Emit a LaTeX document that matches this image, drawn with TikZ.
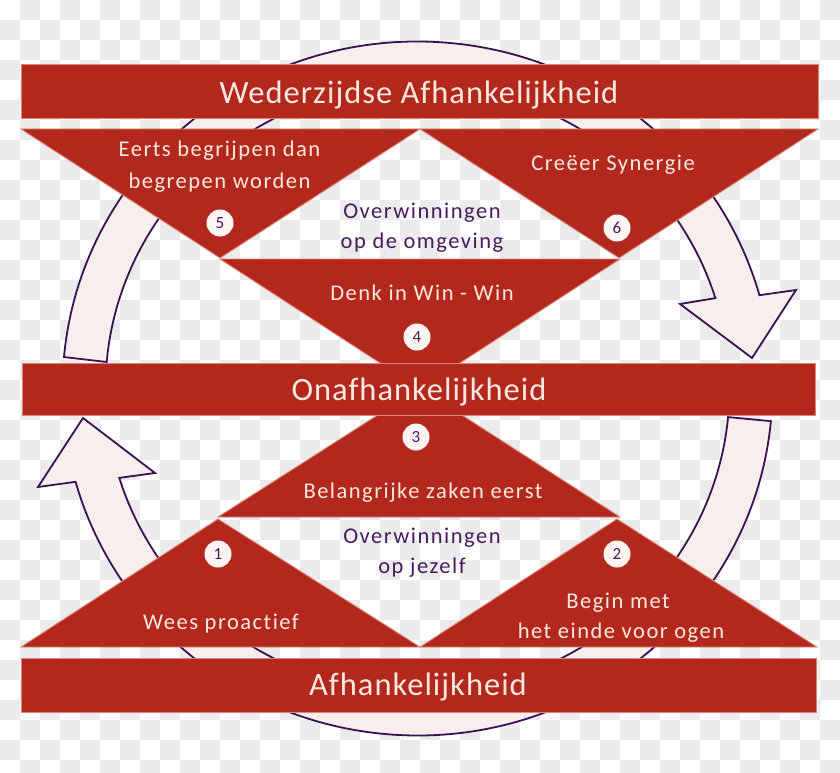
\documentclass[tikz,border=0pt]{standalone}
\usepackage{fontspec}
\setmainfont{Carlito}[Ligatures=NoCommon]
\newfontfamily\bigfam{Carlito}[LetterSpace=3.1,Ligatures=NoCommon]
\newfontfamily\smallfam{Carlito}[LetterSpace=6.7,Ligatures=NoCommon]
\usetikzlibrary{calc}
\definecolor{barred}{HTML}{B3281C}
\definecolor{baredge}{HTML}{DC8478}
\definecolor{ringfill}{HTML}{F6EFEC}
\definecolor{ringline}{HTML}{3C1053}
\definecolor{purpletext}{HTML}{4A1A5E}
\definecolor{creamtext}{HTML}{F8E8E0}
\definecolor{numfill}{HTML}{FCF5F1}
\definecolor{checkgray}{HTML}{EBEBEB}
\begin{document}
\begin{tikzpicture}[x=1pt,y=-1pt,
  redfill/.style={fill=barred, draw=baredge, line width=0.9pt, line join=miter},
  bar/.style={redfill, rectangle, inner sep=0pt},
  ringarrow/.style={fill=ringfill, draw=ringline, line width=1.8pt, line join=miter},
  bigtext/.style={font=\bigfam\fontsize{32.5}{36}\selectfont, text=creamtext, anchor=base, inner sep=0pt},
  smalltext/.style={font=\smallfam\fontsize{22.5}{26}\selectfont, text=creamtext, anchor=base, inner sep=0pt},
  notetext/.style={smalltext, text=purpletext},
  num/.style={circle, fill=numfill, minimum size=27pt, inner sep=0pt, font=\fontsize{17}{17}\selectfont, text=purpletext}
]
\useasboundingbox (0,0) rectangle (840,773);
% background checkerboard
\fill[white] (0,0) rectangle (840,773);
\foreach \i in {0,...,41}{
  \foreach \j in {0,...,38}{
    \pgfmathtruncatemacro{\chk}{mod(\i+\j,2)}
    \ifnum\chk=1 \fill[checkgray] (\i*20,\j*20) rectangle ++(20,20); \fi
  }
}
\coordinate (C) at (417.5,388.5);
% upper curved arrow
\path[ringarrow] ($(C)+(185.2:355 and 347)$)
  arc[start angle=185.2, end angle=344.4, x radius=355, y radius=347]
  -- (796,290) -- (752,358) -- (680,304)
  -- ($(C)+(342.7:312 and 304)$)
  arc[start angle=342.7, end angle=185, x radius=312, y radius=304] -- cycle;
% lower curved arrow
\path[ringarrow] ($(C)+(5.4:355 and 347)$)
  arc[start angle=5.4, end angle=164.4, x radius=355, y radius=347]
  -- (38,487) -- (83,418) -- (155,473)
  -- ($(C)+(162.9:312 and 304)$)
  arc[start angle=162.9, end angle=5.4, x radius=312, y radius=304] -- cycle;
% triangles
\path[redfill] (21,129) -- (420,129) -- (220,258) -- cycle;
\path[redfill] (420,129) -- (818,129) -- (619,258) -- cycle;
\path[redfill] (220,259) -- (620,259) -- (420,389) -- cycle;
\path[redfill] (420,388) -- (620,517) -- (218,517) -- cycle;
\path[redfill] (21,647) -- (218,519) -- (420,647) -- cycle;
\path[redfill] (420,647) -- (617,519) -- (817,647) -- cycle;
% bars
\node[bar, minimum width=797pt, minimum height=54pt] (wed) at (419.5,91) {};
\node[bar, minimum width=793pt, minimum height=52pt] (onaf) at (418.5,389) {};
\node[bar, minimum width=795pt, minimum height=54pt] (afh) at (418.5,685) {};
% bar texts
\node[bigtext] (tw) at (419,103) {Wederzijdse Afhankelijkheid};
\node[bigtext] (to) at (419,400) {Onafhankelijkheid};
\node[bigtext] (ta) at (418,695) {Afhankelijkheid};
% triangle texts
\node[smalltext] (t5a) at (219.5,157) {Eerts begrijpen dan};
\node[smalltext] (t5b) at (219.5,188) {begrepen worden};
\node[smalltext] (t6) at (613,170) {Creëer Synergie};
\node[smalltext] (t4) at (422,300) {Denk in Win - Win};
\node[smalltext] (t3) at (423,498) {Belangrijke zaken eerst};
\node[smalltext] (t1) at (221,629) {Wees proactief};
\node[smalltext] (t2a) at (618,608) {Begin met};
\node[smalltext] (t2b) at (621,638) {het einde voor ogen};
% purple notes
\node[notetext] (oa1) at (422,218) {Overwinningen};
\node[notetext] (oa2) at (422,248) {op de omgeving};
\node[notetext] (ob1) at (422,543) {Overwinningen};
\node[notetext] (ob2) at (422,573) {op jezelf};
% numbers
\node[num] (n5) at (220,223) {5};
\node[num] (n6) at (617,228) {6};
\node[num] (n4) at (417,337) {4};
\node[num] (n3) at (416,437) {3};
\node[num] (n1) at (218,554) {1};
\node[num] (n2) at (617,554) {2};
\end{tikzpicture}
\end{document}
